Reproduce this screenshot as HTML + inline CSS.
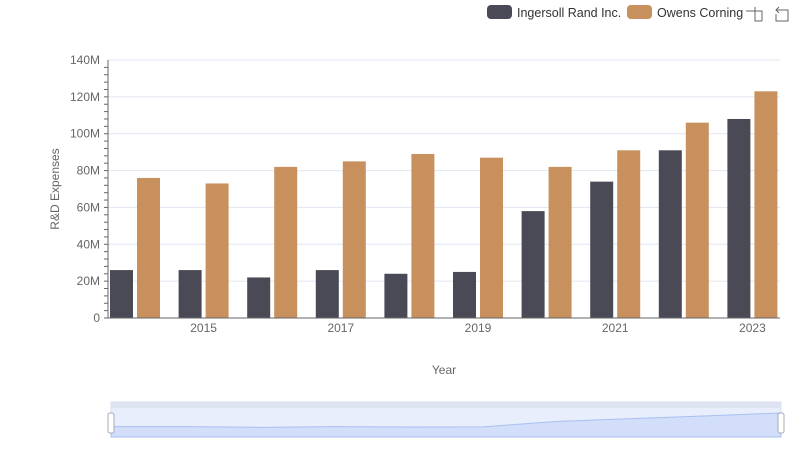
<!DOCTYPE html>
<html><head><meta charset="utf-8"><style>
body{margin:0;background:#fff;font-family:"Liberation Sans",sans-serif}
svg text{font-family:"Liberation Sans",sans-serif}
</style></head><body>
<svg id="c" width="800" height="461" viewBox="0 0 800 461">
<g>
 <g><rect x="487" y="5" width="25" height="14" rx="4" fill="#4a4a56"/><text x="517" y="17" font-size="12.5" fill="#333">Ingersoll Rand Inc.</text></g>
 <g><rect x="627" y="5" width="25" height="14" rx="4" fill="#c8905c"/><text x="657" y="17" font-size="12.5" fill="#333">Owens Corning</text></g>
 <g stroke="#666" fill="none"><path d="M748 11h14v10M755 7v14h7M746 11h4"/></g>
 <g stroke="#666" fill="none"><path d="M776 10h12v11h-12v-7M779 7l-3 3 3 3"/></g>
</g>
<g id="grid"></g>
<g id="yaxis"></g>
<g id="bars"></g>
<g id="xaxis"></g>
<text x="59" y="189" font-size="12" fill="#666" text-anchor="middle" transform="rotate(-90 59 189)">R&amp;D Expenses</text>
<text x="444" y="374" font-size="12" fill="#666" text-anchor="middle">Year</text>
<g>
 <rect x="111" y="402" width="670" height="35" fill="#e8eefc" stroke="#d5dcec"/>
 <rect x="111" y="402" width="670" height="6" fill="#dde3f1"/>
 <path id="spark" fill="#d2defa" stroke="#a9c0ef"/>
 <rect x="108" y="413" width="6" height="20" rx="2" fill="#fff" stroke="#aab"/>
 <rect x="778" y="413" width="6" height="20" rx="2" fill="#fff" stroke="#aab"/>
</g>
</svg>
<script>
const years=[2014,2015,2016,2017,2018,2019,2020,2021,2022,2023];
const ingersoll=[26,26,22,26,24,25,58,74,91,108];
const owens=[76,73,82,85,89,87,82,91,106,123];
const yTicks=[0,20,40,60,80,100,120,140];
const NS="http://www.w3.org/2000/svg";
const X0=108,X1=780,Y0=318,Y1=60;
const y=v=>Y0-(v/140)*(Y0-Y1);
const cx=i=>135+i*68.6;
function mk(t,a,p){const e=document.createElementNS(NS,t);for(const k in a)e.setAttribute(k,a[k]);p.appendChild(e);return e;}
const grid=document.getElementById('grid'),ya=document.getElementById('yaxis'),bars=document.getElementById('bars'),xa=document.getElementById('xaxis');
yTicks.forEach(v=>{
 if(v>0){const l=mk('line',{x1:X0,x2:X1,y1:y(v),y2:y(v),stroke:'#e0e6f1'},grid);
 
 }
 const t=mk('text',{x:100,y:y(v)+4,'font-size':12,fill:'#666','text-anchor':'end'},ya);t.textContent=v===0?'0':v+'M';
 
 
});
for(let v=0;v<140;v+=4){mk('line',{x1:104,x2:108,y1:y(v),y2:y(v),stroke:'#666'},ya);}
mk('line',{x1:X0,x2:X0,y1:Y1,y2:Y0,stroke:'#666'},ya);
years.forEach((yr,i)=>{
 const a=mk('rect',{x:cx(i)-25,y:y(ingersoll[i]),width:23,height:Y0-y(ingersoll[i]),fill:'#4a4a56'},bars);
 
 
 const b=mk('rect',{x:cx(i)+2,y:y(owens[i]),width:23,height:Y0-y(owens[i]),fill:'#c8905c'},bars);
 
 
 if(yr%2===1){const t=mk('text',{x:cx(i),y:332,'font-size':12,fill:'#666','text-anchor':'middle'},xa);t.textContent=yr;
 
 }
});
mk('line',{x1:X0,x2:X1,y1:Y0,y2:Y0,stroke:'#666'},xa);
let d='M111 437';
ingersoll.forEach((v,i)=>{d+=' L'+(111+i*670/9)+' '+(437-(v/108)*24-6*(1-v/108)+0);});
d+=' L781 437Z';
document.getElementById('spark').setAttribute('d',d);
</script>
</body></html>
